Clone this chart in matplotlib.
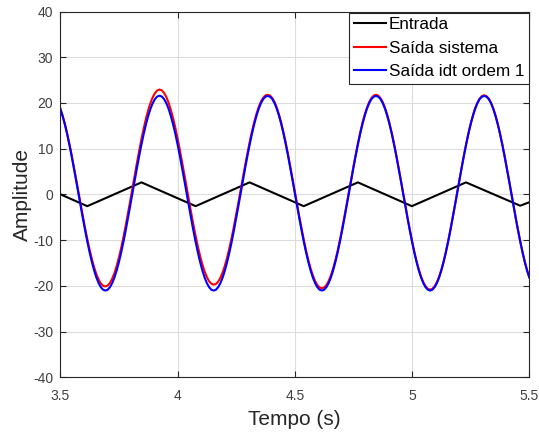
import numpy as np
import matplotlib
matplotlib.use("Agg")
import matplotlib.pyplot as plt

# ---- data ----
# Input (triangle wave) vertices
entrada_t = [3.5, 3.615, 3.846, 4.077, 4.307, 4.538, 4.769, 4.999, 5.230, 5.461, 5.5]
entrada_y = [0.05, -2.55, 2.65, -2.55, 2.65, -2.55, 2.65, -2.55, 2.65, -2.45, -1.7]

# Sample times of the two outputs (209 samples from 3.5 to 5.5 s)
t_start, t_end, n_samples = 3.5, 5.5, 209

# Saída sistema (red)
saida_sistema = [
    18.75, 17.25, 15.45, 13.41, 11.13, 8.68, 6.08, 3.40, 0.66, -2.08,
    -4.76, -7.36, -9.81, -12.09, -14.13, -15.93, -17.43, -18.62, -19.46, -19.97,
    -20.10, -19.90, -19.33, -18.42, -17.18, -15.61, -13.75, -11.64, -9.30, -6.78,
    -4.12, -1.37, 1.43, 4.22, 6.97, 9.63, 12.15, 14.49, 16.60, 18.46,
    20.03, 21.27, 22.18, 22.75, 22.95, 22.77, 22.22, 21.32, 20.09, 18.54,
    16.70, 14.61, 12.28, 9.78, 7.14, 4.41, 1.63, -1.16, -3.89, -6.53,
    -9.03, -11.36, -13.45, -15.29, -16.84, -18.07, -18.97, -19.52, -19.70, -19.57,
    -19.06, -18.22, -17.03, -15.53, -13.74, -11.69, -9.42, -6.96, -4.37, -1.68,
    1.05, 3.78, 6.47, 9.06, 11.52, 13.79, 15.84, 17.63, 19.13, 20.32,
    21.16, 21.67, 21.80, 21.63, 21.10, 20.22, 19.00, 17.46, 15.64, 13.56,
    11.25, 8.76, 6.14, 3.42, 0.65, -2.12, -4.84, -7.46, -9.95, -12.26,
    -14.34, -16.16, -17.70, -18.92, -19.80, -20.33, -20.50, -20.33, -19.80, -18.92,
    -17.70, -16.16, -14.34, -12.26, -9.95, -7.46, -4.84, -2.12, 0.65, 3.42,
    6.14, 8.76, 11.25, 13.56, 15.64, 17.46, 19.00, 20.22, 21.10, 21.63,
    21.80, 21.62, 21.07, 20.18, 18.95, 17.40, 15.56, 13.47, 11.15, 8.65,
    6.01, 3.28, 0.50, -2.28, -5.01, -7.65, -10.15, -12.47, -14.56, -16.40,
    -17.95, -19.18, -20.07, -20.62, -20.80, -20.62, -20.08, -19.19, -17.97, -16.42,
    -14.59, -12.50, -10.18, -7.69, -5.05, -2.33, 0.45, 3.23, 5.95, 8.59,
    11.08, 13.40, 15.49, 17.32, 18.87, 20.09, 20.98, 21.52, 21.70, 21.52,
    20.97, 20.08, 18.85, 17.30, 15.46, 13.37, 11.05, 8.55, 5.91, 3.18,
    0.40, -2.38, -5.11, -7.75, -10.25, -12.57, -14.66, -16.50, -18.05,
]

# Saída idt ordem 1 (blue)
saida_idt = [
    18.75, 17.20, 15.36, 13.27, 10.95, 8.45, 5.81, 3.08, 0.30, -2.48,
    -5.21, -7.85, -10.35, -12.67, -14.76, -16.60, -18.15, -19.38, -20.27, -20.82,
    -21.00, -20.82, -20.27, -19.38, -18.15, -16.60, -14.76, -12.67, -10.35, -7.85,
    -5.21, -2.48, 0.30, 3.08, 5.81, 8.45, 10.95, 13.27, 15.36, 17.20,
    18.75, 19.98, 20.87, 21.42, 21.60, 21.42, 20.87, 19.98,
    18.75, 17.20, 15.36, 13.27, 10.95, 8.45, 5.81, 3.08, 0.30, -2.48,
    -5.21, -7.85, -10.35, -12.67, -14.76, -16.60, -18.15, -19.38, -20.27, -20.82,
    -21.00, -20.82, -20.27, -19.38, -18.15, -16.60, -14.76, -12.67, -10.35, -7.85,
    -5.21, -2.48, 0.30, 3.08, 5.81, 8.45, 10.95, 13.27, 15.36, 17.20,
    18.75, 19.98, 20.87, 21.37, 21.55, 21.37, 20.87, 19.98,
    18.75, 17.20, 15.36, 13.27, 10.95, 8.45, 5.81, 3.08, 0.30, -2.48,
    -5.21, -7.85, -10.35, -12.67, -14.76, -16.60, -18.15, -19.38, -20.27, -20.82,
    -21.00, -20.82, -20.27, -19.38, -18.15, -16.60, -14.76, -12.67, -10.35, -7.85,
    -5.21, -2.48, 0.30, 3.08, 5.81, 8.45, 10.95, 13.27, 15.36, 17.20,
    18.75, 19.98, 20.87, 21.37, 21.55, 21.37, 20.87, 19.98,
    18.75, 17.20, 15.36, 13.27, 10.95, 8.45, 5.81, 3.08, 0.30, -2.48,
    -5.21, -7.85, -10.35, -12.67, -14.76, -16.60, -18.15, -19.38, -20.27, -20.82,
    -21.00, -20.82, -20.27, -19.38, -18.15, -16.60, -14.76, -12.67, -10.35, -7.85,
    -5.21, -2.48, 0.30, 3.08, 5.81, 8.45, 10.95, 13.27, 15.36, 17.20,
    18.75, 19.98, 20.87, 21.37, 21.55, 21.37, 20.87, 19.98,
    18.75, 17.20, 15.36, 13.27, 10.95, 8.45, 5.81, 3.08, 0.30, -2.48,
    -5.21, -7.85, -10.35, -12.67, -14.76, -16.60, -18.15,
]

labels = ["Entrada", "Saída sistema", "Saída idt ordem 1"]
xticks = [3.5, 4, 4.5, 5, 5.5]
xticklabels = ["3.5", "4", "4.5", "5", "5.5"]
yticks = [-40, -30, -20, -10, 0, 10, 20, 30, 40]

# ---- plot ----
plt.rcParams['font.family'] = ['Liberation Sans', 'DejaVu Sans']
plt.rcParams['axes.unicode_minus'] = False
axc = '#262626'

fig = plt.figure(figsize=(5.39, 4.34), dpi=100)
ax = fig.add_axes([0.1119, 0.1302, 0.8701, 0.8433])

t = np.linspace(t_start, t_end, n_samples)
ax.plot(entrada_t, entrada_y, color='black', lw=1.5, label=labels[0])
ax.plot(t, saida_sistema, color=(1, 0, 0), lw=1.5, label=labels[1])
ax.plot(t, saida_idt, color=(0, 0, 1), lw=1.5, label=labels[2])

ax.set_xlim(3.5, 5.5)
ax.set_ylim(-40, 40)
ax.set_xticks(xticks)
ax.set_xticklabels(xticklabels)
ax.set_yticks(yticks)
ax.grid(True, color='#dcdcdc', lw=0.8)
ax.set_axisbelow(True)
ax.tick_params(direction='in', top=True, right=True, length=4, width=0.8,
               colors=axc, labelsize=10, labelcolor='#404040')
ax.tick_params(axis='x', pad=8)
ax.tick_params(axis='y', pad=5)
for s in ax.spines.values():
    s.set_color(axc)
    s.set_linewidth(0.8)

ax.set_xlabel('Tempo (s)', fontsize=15, color='#262626', labelpad=5)
ax.set_ylabel('Amplitude', fontsize=15, color='#262626', labelpad=1)

leg = ax.legend(loc='upper right', bbox_to_anchor=(1.0, 0.997), fontsize=12.3,
                frameon=True, fancybox=False, shadow=False, framealpha=1,
                edgecolor=axc, borderpad=0.28, labelspacing=0.5,
                handlelength=1.85, handletextpad=0.2, borderaxespad=0)
leg.get_frame().set_linewidth(0.8)

fig.savefig('out.png', dpi=100)
